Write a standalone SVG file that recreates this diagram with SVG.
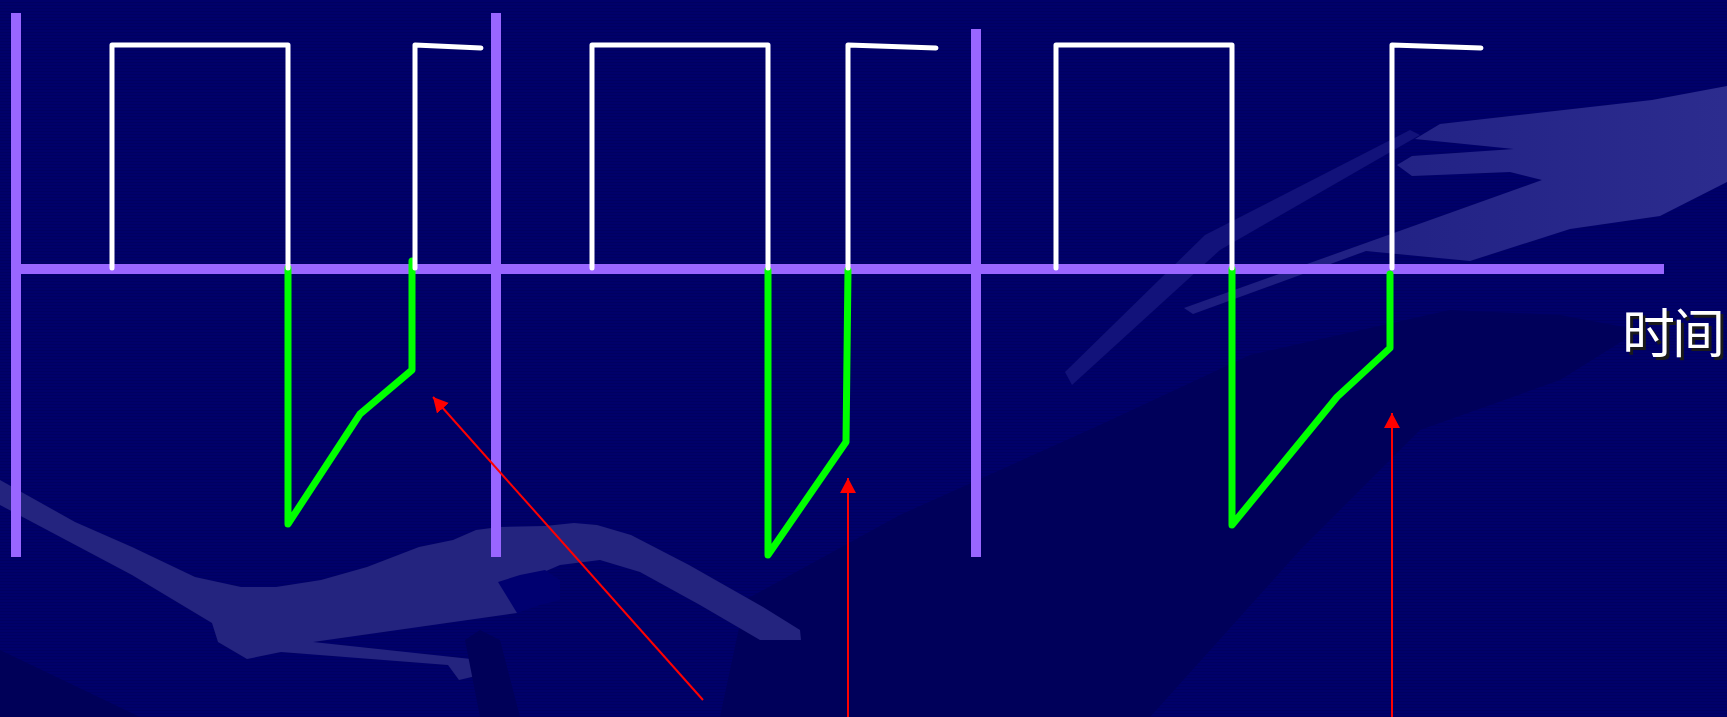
<svg xmlns="http://www.w3.org/2000/svg" width="1727" height="717" viewBox="0 0 1727 717">
<defs>
<pattern id="stripes" width="8" height="3" patternUnits="userSpaceOnUse">
<rect width="8" height="3" fill="#00006A"/>
<rect y="2" width="8" height="1" fill="#000060"/>
</pattern>
<linearGradient id="armg" x1="0" y1="0" x2="1" y2="0">
<stop offset="0" stop-color="#1c1c80"/>
<stop offset="1" stop-color="#2c2c8e"/>
</linearGradient>
<marker id="ah" markerWidth="16" markerHeight="16" refX="15" refY="8" orient="auto" markerUnits="userSpaceOnUse">
<path d="M0,0 L15,8 L0,16 z" fill="#FF0000"/>
</marker>
</defs>
<style>
.axis{stroke:#9966FF;stroke-width:10;fill:none}
.wave{stroke:#FFFFFF;stroke-width:5;fill:none;stroke-linejoin:round;stroke-linecap:round}
.resp{stroke:#00FF00;stroke-width:7;fill:none;stroke-linejoin:round;stroke-linecap:round}
.arrow{stroke:#FF0000;stroke-width:2;fill:none;marker-end:url(#ah)}
.label{font-family:"Noto Sans CJK SC","Noto Sans",sans-serif;font-size:53px;letter-spacing:-3px}
</style>
<g id="background">
<rect width="1727" height="717" fill="url(#stripes)"/>
<polygon points="720,717 745,600 900,515 1100,425 1250,355 1450,310 1560,315 1640,330 1560,380 1420,430 1300,550 1150,717" fill="#00005A"/>
<polygon points="0,650 0,717 140,717" fill="#000058"/>
<polygon points="1065,372 1072,385 1220,250 1420,135 1410,130 1205,235" fill="#12127a"/>
<polygon points="1184,308 1542,180 1510,172 1412,176 1397,165 1412,156 1514,149 1415,139 1440,124 1652,100 1727,86 1727,182 1660,216 1570,229 1470,261 1366,251 1193,314" fill="url(#armg)"/>
<polygon points="0,480 75,522 132,547 195,577 241,587 276,587 321,580 367,567 419,547 453,540 476,530 499,527 545,526 574,523 597,525 631,535 689,565 763,607 800,630 801,640 760,640 700,605 640,572 600,560 560,565 530,578 517,613 313,642 471,659 476,676 459,680 448,665 281,652 247,659 218,642 212,623 132,575 0,505" fill="#24247f"/>
<polygon points="498,582 520,575 545,570 560,580 560,600 540,605 517,613" fill="#000070"/>
<polygon points="465,640 480,630 500,640 520,717 480,717" fill="#000058"/>
</g>
<g id="axes">
<line class="axis" x1="11" y1="269" x2="1664" y2="269"/>
<line class="axis" x1="16" y1="13" x2="16" y2="557"/>
<line class="axis" x1="496" y1="13" x2="496" y2="557"/>
<line class="axis" x1="976" y1="29" x2="976" y2="557"/>
</g>
<g id="cycle1">
<polyline class="resp" points="288,268 288,524 360,414 412,370 412,261"/>
<polyline class="wave" points="112,268 112,45 288,45 288,268"/>
<polyline class="wave" points="415,268 415,45 481,48"/>
</g>
<g id="cycle2">
<polyline class="resp" points="768,270 768,555 846,442 848,270"/>
<polyline class="wave" points="592,268 592,45 768,45 768,268"/>
<polyline class="wave" points="848,268 848,45 936,48"/>
</g>
<g id="cycle3">
<polyline class="resp" points="1232,269 1232,525 1337,397 1390,348 1390,274"/>
<polyline class="wave" points="1056,268 1056,45 1232,45 1232,268"/>
<polyline class="wave" points="1392,268 1392,45 1481,48"/>
</g>
<g id="connectors">
<line class="arrow" x1="703" y1="700" x2="433" y2="397"/>
<line class="arrow" x1="848" y1="717" x2="848" y2="478"/>
<line class="arrow" x1="1392" y1="717" x2="1392" y2="413"/>
</g>
<g id="time-label">
<text class="label" x="1625" y="356" fill="#1a1a1a">时间</text>
<text class="label" x="1622" y="353" fill="#FFFFFF">时间</text>
</g>
</svg>
